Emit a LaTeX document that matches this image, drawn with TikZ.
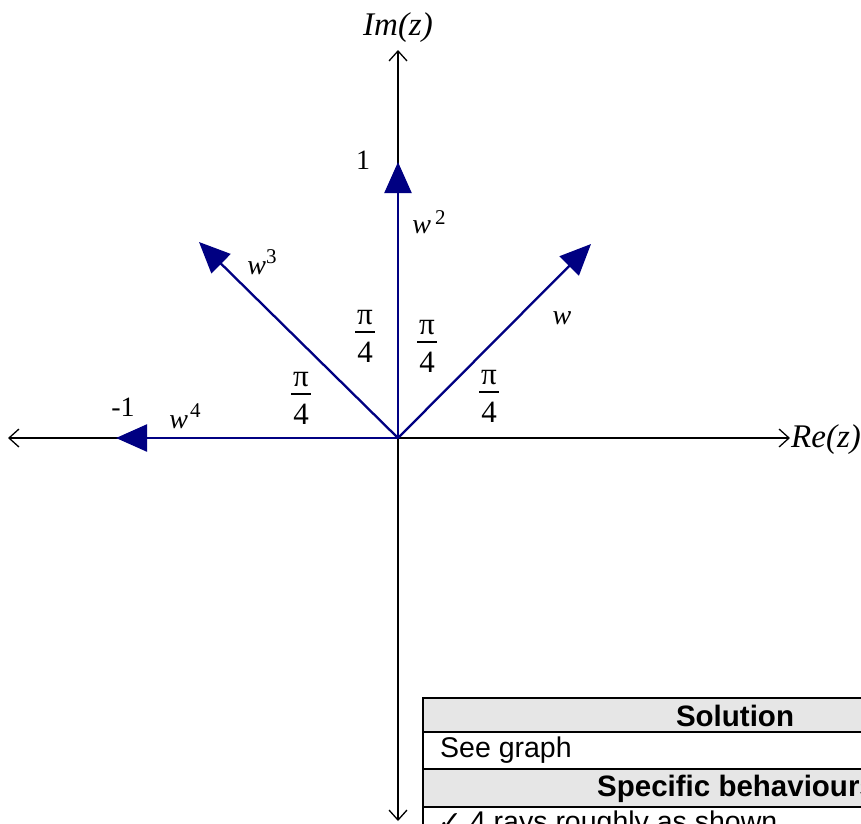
\documentclass[tikz,border=0pt]{standalone}
\usepackage{fontspec}
\setmainfont{Liberation Serif}
\newfontfamily\arialf{Liberation Sans}
\newfontfamily\dejavu{DejaVu Sans}
\usetikzlibrary{arrows.meta}
\definecolor{navy}{RGB}{0,0,130}
\definecolor{hdr}{RGB}{230,230,230}
\begin{document}
\begin{tikzpicture}[x=1pt,y=-1pt,
  axisline/.style={line width=1.3pt,{Straight Barb[length=10pt,width=18pt]}-{Straight Barb[length=10pt,width=18pt]}},
  ray/.style={navy,line width=2.3pt,-{Triangle[length=31pt,width=27pt]}},
  axlbl/.style={inner sep=0pt,font=\fontsize{33}{33}\selectfont\itshape},
  numlbl/.style={inner sep=0pt,font=\fontsize{28}{28}\selectfont},
  wlbl/.style={inner sep=0pt,font=\fontsize{28}{28}\selectfont},
  fracbar/.style={fill=black,inner sep=0pt,minimum width=20pt,minimum height=2.4pt,
     label={[inner sep=0pt,label distance=6pt,font=\fontsize{31}{31}\selectfont]above:π},
     label={[inner sep=0pt,label distance=8pt,font=\fontsize{31}{31}\selectfont]below:4}},
  cell/.style={inner sep=0pt,font=\fontsize{28.5}{28.5}\selectfont\arialf},
  hcell/.style={cell,font=\fontsize{29.5}{29.5}\selectfont\arialf\bfseries}
]
\useasboundingbox (0,0) rectangle (861,823);
% axes
\coordinate (xl) at (8,438);
\coordinate (xr) at (790,438);
\coordinate (yb) at (398,821);
\coordinate (yt) at (398,50);
\coordinate (O) at (398,438);
\draw[axisline] (xl) -- (xr);
\draw[axisline] (yb) -- (yt);
% rays
\coordinate (t1) at (591,244);
\coordinate (t2) at (398,162);
\coordinate (t3) at (199,242);
\coordinate (t4) at (116,438);
\draw[ray] (O) -- (t1);
\draw[ray] (O) -- (t2);
\draw[ray] (O) -- (t3);
\draw[ray] (O) -- (t4);
% axis labels
\node[axlbl] (im) at (398,28) {Im(z)};
\node[axlbl] (re) at (826,440) {Re(z)};
% numbers
\node[numlbl] (one) at (363,160) {1};
\node[numlbl] (mone) at (123,407) {-1};
% w labels
\node[wlbl] (w1) at (562,318) {\textit{w}};
\node[wlbl] (w2) at (429,222) {\textit{w}\hspace{4pt}\raisebox{9pt}{\fontsize{21}{21}\selectfont 2}};
\node[wlbl] (w3) at (262,262) {\textit{w}\raisebox{11pt}{\fontsize{21}{21}\selectfont 3}};
\node[wlbl] (w4) at (185,416) {\textit{w}\hspace{2pt}\raisebox{11pt}{\fontsize{21}{21}\selectfont 4}};
% angle fractions
\node[fracbar] (f1) at (365,332) {};
\node[fracbar] (f2) at (427,342) {};
\node[fracbar] (f3) at (301,394) {};
\node[fracbar] (f4) at (489,392) {};
% table
\begin{scope}
\clip (0,0) rectangle (861,823);
\fill[hdr] (423,698) rectangle (880,732);
\fill[hdr] (423,769) rectangle (880,807);
\draw[line width=1.6pt] (880,698) -- (423,698) -- (423,840);
\draw[line width=1.6pt] (423,732) -- (880,732);
\draw[line width=1.6pt] (423,769) -- (880,769);
\draw[line width=1.6pt] (423,807) -- (880,807);
\node[hcell] (sol) at (735,716) {Solution};
\node[cell,anchor=west] (see) at (440,750) {See graph};
\node[hcell,anchor=west] (spec) at (597,789) {Specific behaviours};
\node[cell,anchor=north west] (tick) at (438,811) {{\dejavu ✓} 4 rays roughly as shown};
\end{scope}
\end{tikzpicture}
\end{document}
